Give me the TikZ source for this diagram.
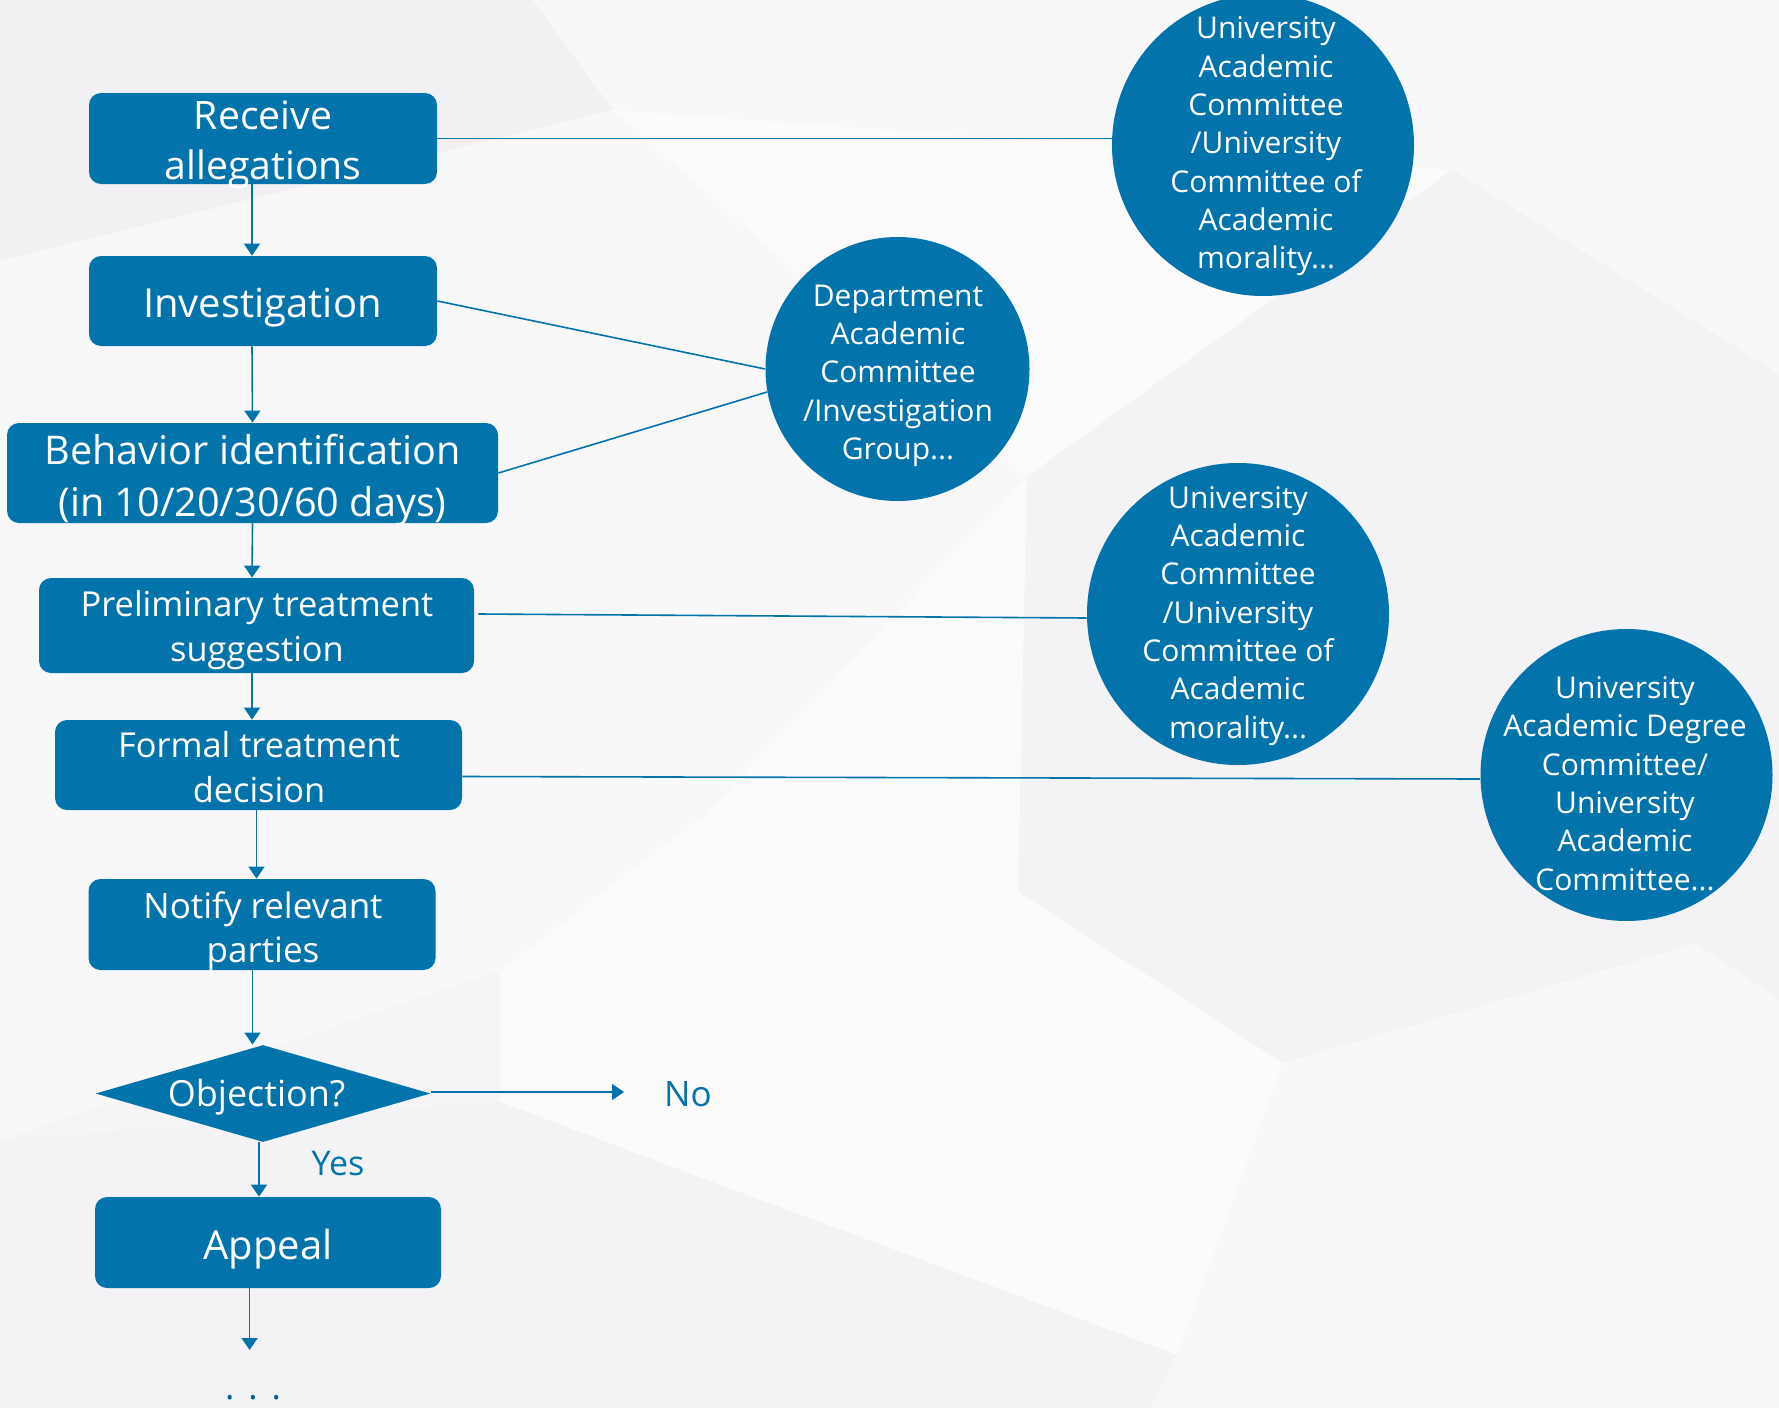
\documentclass[tikz,border=0pt]{standalone}
\usepackage{fontspec}
\setmainfont{Open Sans}
\usetikzlibrary{shapes.geometric,arrows.meta}
\definecolor{myblue}{RGB}{2,115,171}
\definecolor{bgbase}{RGB}{245,245,247}
\definecolor{bgA}{RGB}{241,241,243}
\definecolor{bgB}{RGB}{248,248,249}
\definecolor{bgC}{RGB}{251,251,252}
\definecolor{bgD}{RGB}{243,243,245}
\pgfdeclarelayer{bg}
\pgfdeclarelayer{lines}
\pgfsetlayers{bg,lines,main}
\tikzset{
  box/.style={rectangle, rounded corners=6pt, fill=myblue, draw=none, inner sep=0pt},
  circ/.style={circle, fill=myblue, draw=none, inner sep=0pt},
  dia/.style={diamond, fill=myblue, draw=none, inner sep=0pt},
  txt/.style={align=center, inner sep=0pt, execute at begin node=\strut, execute at end node=\strut},
  wtxt/.style={txt, text=white},
  btxt/.style={txt, text=myblue},
  conn/.style={draw=myblue, line width=0.8pt},
  arr/.style={conn, -{Triangle[length=6pt,width=8pt]}},
  bigf/.style={font=\fontsize{19.6}{25}\selectfont},
  midf/.style={font=\fontsize{17.2}{22.5}\selectfont},
  cirf/.style={font=\fontsize{15}{19.15}\selectfont},
}
\begin{document}
\begin{tikzpicture}[x=0.5pt,y=-0.5pt]
\useasboundingbox (0,0) rectangle (1779,1408);
\begin{pgfonlayer}{bg}
  \fill[bgbase] (0,0) rectangle (1779,1408);
  \fill[bgA] (0,0) -- (533,0) -- (613,110) -- (0,261) -- cycle;
  \fill[bgB] (533,0) -- (1779,0) -- (1779,374) -- (1452,170) -- (613,110) -- cycle;
  \fill[bgC] (613,110) -- (1452,170) -- (1027,477) -- cycle;
  \fill[bgD] (1452,170) -- (1779,374) -- (1779,1000) -- (1695,944) -- (1283,1063) -- (1018,892) -- (1027,477) -- cycle;
  \fill[bgC] (1027,477) -- (1018,892) -- (704,815) -- cycle;
  \fill[bgB] (0,261) -- (613,110) -- (1027,477) -- (704,815) -- (500,971) -- (0,1140) -- cycle;
  \fill[bgC] (704,815) -- (1018,892) -- (1283,1063) -- (1177,1355) -- (704,1179) -- (500,1102) -- (500,971) -- cycle;
  \fill[bgD] (0,1140) -- (500,1102) -- (704,1179) -- (1177,1355) -- (1150,1408) -- (0,1408) -- cycle;
  \fill[bgB] (1283,1063) -- (1695,944) -- (1779,1000) -- (1779,1408) -- (1150,1408) -- (1177,1355) -- cycle;
\end{pgfonlayer}

% boxes
\node[box, minimum width=174pt, minimum height=45.5pt] (recv) at (263,138.5) {};
\node[box, minimum width=174pt, minimum height=45pt] (inv) at (263,301) {};
\node[box, minimum width=245.5pt, minimum height=50pt] (beh) at (252.5,473) {};
\node[box, minimum width=217.5pt, minimum height=47.5pt] (pre) at (256.5,625.5) {};
\node[box, minimum width=203.5pt, minimum height=45pt] (form) at (258.5,765) {};
\node[box, minimum width=173.5pt, minimum height=45.5pt] (noti) at (262,924.5) {};
\node[dia, minimum width=167.5pt, minimum height=48.5pt] (obj) at (263,1093.5) {};
\node[box, minimum width=173pt, minimum height=45.5pt] (app) at (268,1242.5) {};

% box texts
\node[wtxt, bigf] (recv-t) at (263,147.5) {Receive\\allegations};
\node[wtxt, font=\fontsize{20}{25}\selectfont] (inv-t) at (262.5,307.7) {Investigation};
\node[wtxt, font=\fontsize{19.8}{26}\selectfont] (beh-t) at (252.5,483) {Behavior identification\\(in 10/20/30/60 days)};
\node[wtxt, midf] (pre-t) at (257,632.7) {Preliminary treatment\\suggestion};
\node[wtxt, midf] (form-t) at (259,773.2) {Formal treatment\\decision};
\node[wtxt, font=\fontsize{17.5}{22}\selectfont] (noti-t) at (263,933.5) {Notify relevant\\parties};
\node[wtxt, font=\fontsize{18}{22.5}\selectfont] (obj-t) at (256.6,1097.6) {Objection?};
\node[wtxt, font=\fontsize{20}{25}\selectfont] (app-t) at (268,1249) {Appeal};
\node[btxt, font=\fontsize{17.5}{22}\selectfont] (no-t) at (688,1098) {No};
\node[btxt, font=\fontsize{17}{22}\selectfont] (yes-t) at (338,1166.2) {Yes};
\node[btxt, font=\fontsize{17.5}{22}\selectfont, text=myblue!85!black] (dots-t) at (253,1391) {.\hspace{7pt}.\hspace{7pt}.};

% circles
\node[circ, minimum size=151pt] (c1) at (1263,145) {};
\node[circ, minimum size=132pt] (c2) at (897.5,369) {};
\node[circ, minimum size=151pt] (c3) at (1238,614) {};
\node[circ, minimum size=146pt] (c4) at (1626.5,775) {};
\node[wtxt, cirf] (c1-t) at (1266,148.6) {University\\Academic\\Committee\\/University\\Committee of\\Academic\\morality...};
\node[wtxt, cirf] (c2-t) at (898,378) {Department\\Academic\\Committee\\/Investigation\\Group...};
\node[wtxt, cirf] (c3-t) at (1238,618) {University\\Academic\\Committee\\/University\\Committee of\\Academic\\morality...};
\node[wtxt, cirf] (c4-t) at (1625,789) {University\\Academic Degree\\Committee/\\University\\Academic\\Committee...};

\coordinate (append) at (249.6,1350);
\coordinate (noend) at (624,1092);

\begin{pgfonlayer}{lines}
  % flow arrows
  \draw[arr] ([xshift=-5.5pt]recv.south) -- ([xshift=-5.5pt]inv.north);
  \draw[arr] ([xshift=-5.5pt]inv.south) -- (beh.north);
  \draw[arr] (beh.south) -- ([xshift=-2.25pt]pre.north);
  \draw[arr] ([xshift=-2.25pt]pre.south) -- ([xshift=-3.25pt]form.north);
  \draw[arr] ([xshift=-1pt]form.south) -- ([xshift=-2.75pt]noti.north);
  \draw[arr] ([xshift=-4.75pt]noti.south) -- ([xshift=-5.25pt]obj.north);
  \draw[arr] ([xshift=-2pt]obj.south) -- ([xshift=-4.5pt]app.north);
  \draw[arr] ([xshift=-9.2pt]app.south) -- (append);
  \draw[arr] (obj.east |- noend) -- (noend);
  % links to committees
  \draw[conn] (recv.east) -- (recv.east -| c1.west);
  \draw[conn] (inv.east) -- (c2.west);
  \draw[conn] (beh.east) -- (c2.190);
  \draw[conn] ([xshift=2pt,yshift=5.75pt]pre.east) -- ([yshift=-2pt]c3.west);
  \draw[conn] ([yshift=-5.75pt]form.east) -- ([yshift=-2pt]c4.west);
\end{pgfonlayer}
\end{tikzpicture}
\end{document}
